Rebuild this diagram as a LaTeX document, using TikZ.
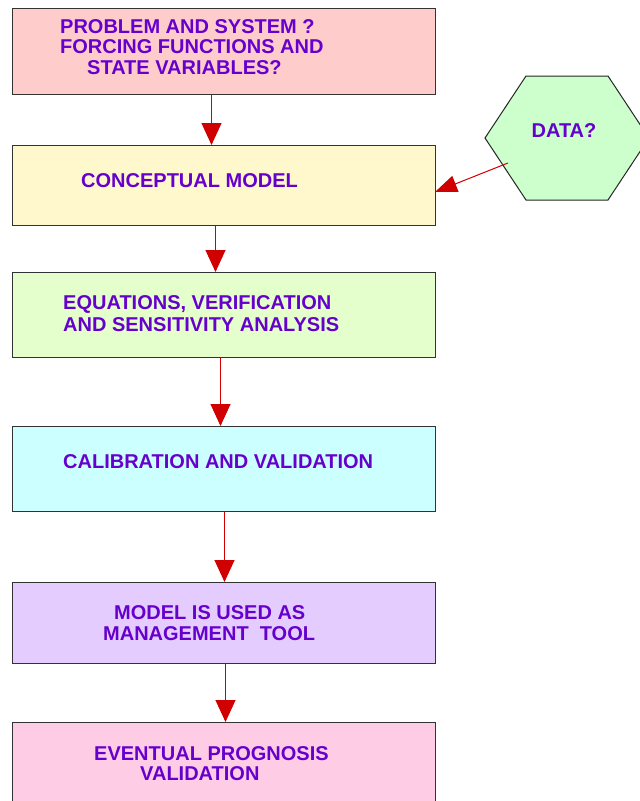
\documentclass[tikz,border=0pt]{standalone}
\usepackage{fontspec}
\setmainfont{Liberation Sans}
\usetikzlibrary{arrows.meta}
\definecolor{txtpurple}{HTML}{6600CC}
\definecolor{arrred}{HTML}{D00000}
\definecolor{fpink}{HTML}{FFCCCC}
\definecolor{fyellow}{HTML}{FFF8CC}
\definecolor{flime}{HTML}{E5FFCC}
\definecolor{fcyan}{HTML}{CCFFFF}
\definecolor{flilac}{HTML}{E5CCFF}
\definecolor{frose}{HTML}{FFCCE5}
\definecolor{fgreen}{HTML}{CCFFCC}
\begin{document}
\begin{tikzpicture}[x=1pt,y=-1pt,
  stage/.style={draw=black!80, line width=1pt, minimum width=423pt, inner sep=0pt, anchor=north west},
  lbl/.style={text=txtpurple, font=\fontsize{20}{21}\selectfont\bfseries, inner sep=0pt, anchor=west},
  flow/.style={draw=arrred, line width=1.1pt, -{Triangle[width=20pt,length=22pt,fill=arrred]}}]
\useasboundingbox (0,0) rectangle (640,801);
\begin{scope}
\clip (0,0) rectangle (640,801);
% process boxes
\node[stage, fill=fpink,   minimum height=86pt] (problem)  at (12,8)   {};
\node[stage, fill=fyellow, minimum height=80pt] (concept)  at (12,145) {};
\node[stage, fill=flime,   minimum height=85pt] (equation) at (12,272) {};
\node[stage, fill=fcyan,   minimum height=85pt] (calib)    at (12,426) {};
\node[stage, fill=flilac,  minimum height=81pt] (manage)   at (12,582) {};
\node[stage, fill=frose,   minimum height=110pt] (prognosis) at (12,722) {};
% data hexagon
\draw[draw=black!85, line width=1pt, fill=fgreen]
  (485,138) -- (526,76) -- (608,76) -- (649,138) -- (608,200) -- (526,200) -- cycle;
\end{scope}
% labels
\node[lbl] (p1) at (60,27)  {PROBLEM AND SYSTEM ?};
\node[lbl] (p2) at (60,47)  {FORCING FUNCTIONS AND};
\node[lbl] (p3) at (87,68)  {STATE VARIABLES?};
\node[lbl] (c1) at (81,181) {CONCEPTUAL MODEL};
\node[lbl] (e1) at (63,304) {EQUATIONS, VERIFICATION};
\node[lbl] (e2) at (63,325) {AND SENSITIVITY ANALYSIS};
\node[lbl] (v1) at (63,462) {CALIBRATION AND VALIDATION};
\node[lbl] (m1) at (114,613) {MODEL IS USED AS};
\node[lbl] (m2) at (103,634) {MANAGEMENT\ \ TOOL};
\node[lbl] (g1) at (94,754) {EVENTUAL PROGNOSIS};
\node[lbl] (g2) at (140,774) {VALIDATION};
\node[lbl, anchor=center] (data) at (564,131) {DATA?};
% connectors
\draw[flow] ([xshift=-12.5pt]problem.south) -- ([xshift=-12.5pt]problem.south |- concept.north);
\draw[flow] ([xshift=-8.5pt]concept.south) -- ([xshift=-8.5pt]concept.south |- equation.north);
\draw[flow] ([xshift=-3.5pt]equation.south) -- ([xshift=-3.5pt]equation.south |- calib.north);
\draw[flow] ([xshift=0.5pt]calib.south) -- ([xshift=0.5pt]calib.south |- manage.north);
\draw[flow] ([xshift=1.5pt]manage.south) -- ([xshift=1.5pt]manage.south |- prognosis.north);
\coordinate (dataout) at (508,163);
\coordinate (datain) at (435,192);
\draw[draw=arrred, line width=1pt, -{Triangle[width=17pt,length=22pt,fill=arrred]}] (dataout) -- (datain);
\end{tikzpicture}
\end{document}
